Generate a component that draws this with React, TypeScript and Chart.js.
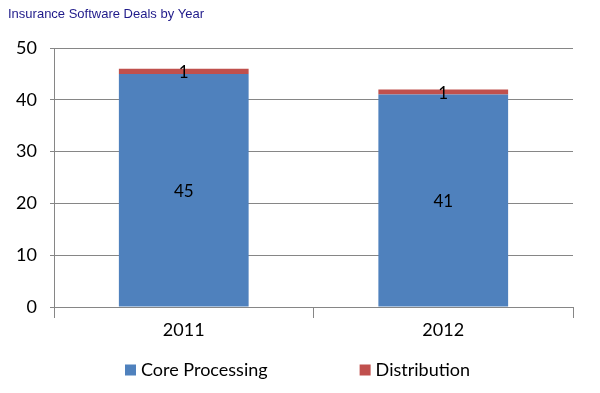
import React, { useEffect, useRef } from "react";
import { Chart, registerables } from "chart.js";

Chart.register(...registerables);

const TITLE = "Insurance Software Deals by Year";
const CATEGORIES = ["2011", "2012"];
const CORE_PROCESSING = [45, 41];
const DISTRIBUTION = [1, 1];
const SERIES_NAMES = ["Core Processing", "Distribution"];
const SERIES_COLORS = ["#4F81BD", "#C0504D"];
const Y_MIN = 0;
const Y_MAX = 50;
const Y_STEP = 10;

const FONT = "Lato, 'Open Sans', sans-serif";
const GRID = "#868686";

const overlayPlugin = {
  id: "overlay",
  afterDatasetsDraw(chart: any) {
    const ctx = chart.ctx;
    ctx.save();
    ctx.font = `17px ${FONT}`;
    ctx.fillStyle = "#000";
    ctx.textAlign = "center";
    ctx.textBaseline = "middle";
    chart.data.datasets.forEach((ds: any, i: number) => {
      const meta = chart.getDatasetMeta(i);
      meta.data.forEach((el: any, j: number) => {
        const cy = (el.y + el.base) / 2;
        ctx.fillText(String(ds.data[j]), el.x, cy + 1);
      });
    });
    ctx.restore();
  },
  afterDraw(chart: any) {
    const ctx = chart.ctx;
    ctx.save();
    // title
    ctx.font = `13px 'Liberation Sans', Arial, sans-serif`;
    ctx.fillStyle = "#1F1A8A";
    ctx.textAlign = "left";
    ctx.textBaseline = "middle";
    ctx.fillText(TITLE, 8, 14);
    // legend
    ctx.font = `18px ${FONT}`;
    ctx.textBaseline = "middle";
    let x = 125;
    const cy = 370;
    const box = 11;
    chart.data.datasets.forEach((ds: any) => {
      ctx.fillStyle = ds.backgroundColor;
      ctx.fillRect(x, cy - box / 2, box, box);
      ctx.fillStyle = "#000";
      ctx.fillText(ds.label, x + box + 5, cy);
      const w = ctx.measureText(ds.label).width;
      x = x + box + 5 + w + 92;
    });
    ctx.restore();
  },
};

export default function App() {
  const ref = useRef<HTMLCanvasElement | null>(null);
  useEffect(() => {
    document.body.style.margin = "0";
    if (!ref.current) return;
    const chart = new Chart(ref.current, {
      type: "bar",
      data: {
        labels: CATEGORIES,
        datasets: [
          {
            label: SERIES_NAMES[0],
            data: CORE_PROCESSING,
            backgroundColor: SERIES_COLORS[0],
            barPercentage: 1,
            categoryPercentage: 0.5,
          },
          {
            label: SERIES_NAMES[1],
            data: DISTRIBUTION,
            backgroundColor: SERIES_COLORS[1],
            barPercentage: 1,
            categoryPercentage: 0.5,
          },
        ],
      },
      options: {
        responsive: false,
        animation: false,
        layout: { padding: { top: 48, right: 27, bottom: 46, left: 0 } },
        plugins: {
          legend: { display: false },
          title: { display: false },
          tooltip: { enabled: false },
        },
        scales: {
          x: {
            stacked: true,
            grid: {
              display: true,
              drawOnChartArea: false,
              drawTicks: true,
              tickLength: 11,
              color: GRID,
              offset: true,
            },
            border: { display: true, color: GRID },
            ticks: { font: { family: FONT, size: 18 }, color: "#000", padding: 1 },
            afterFit(scale: any) {
              scale.height = 40;
            },
          },
          y: {
            stacked: true,
            min: Y_MIN,
            max: Y_MAX,
            ticks: {
              stepSize: Y_STEP,
              font: { family: FONT, size: 18 },
              color: "#000",
              padding: 13,
            },
            grid: { color: GRID, drawTicks: true, tickLength: 4 },
            border: { display: true, color: GRID },
            afterFit(scale: any) {
              scale.width = 54;
            },
          },
        },
      },
      plugins: [overlayPlugin],
    });
    return () => chart.destroy();
  }, []);
  return (
    <div style={{ width: 600, height: 393, background: "#fff" }}>
      <canvas ref={ref} width={600} height={393} />
    </div>
  );
}
